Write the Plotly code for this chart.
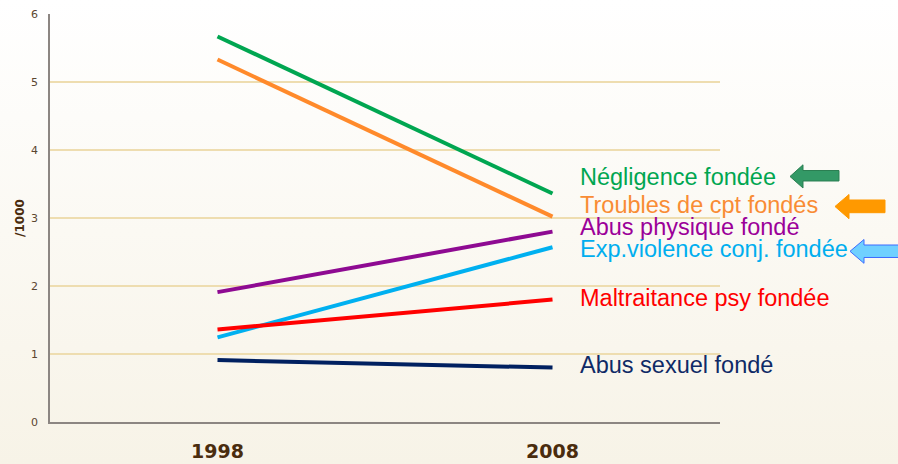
import base64
import plotly.graph_objects as go

# ---- data ----
years = [1998, 2008]
series_names = [
    "Négligence fondée",
    "Troubles de cpt fondés",
    "Abus physique fondé",
    "Exp.violence conj. fondée",
    "Maltraitance psy fondée",
    "Abus sexuel fondé",
]
negligence = [5.67, 3.36]
troubles = [5.33, 3.02]
abus_physique = [1.91, 2.80]
exp_violence = [1.245, 2.57]
maltraitance = [1.36, 1.80]
abus_sexuel = [0.91, 0.80]
y_ticks = [0, 1, 2, 3, 4, 5, 6]
x_tick_labels = ["1998", "2008"]
y_title = "/1000"

values = [negligence, troubles, abus_physique, exp_violence, maltraitance, abus_sexuel]
line_colors = ["#00A651", "#FF8A2B", "#8E0A92", "#00B0F0", "#FF0000", "#002060"]
text_colors = ["#00A651", "#F98C34", "#9B0099", "#00AEEF", "#FF0000", "#0F2A66"]
label_y = [3.60, 3.19, 2.87, 2.54, 1.83, 0.84]

W, H = 898, 464
L, R, T, B = 50, 178, 14, 42
PW, PH = W - L - R, H - T - B


def px(x):
    return (x - L) / PW


def py(y):
    return 1 - (y - T) / PH


fig = go.Figure()
for name, vals, col in zip(series_names, values, line_colors):
    fig.add_trace(go.Scatter(x=years, y=vals, mode="lines", name=name,
                             line=dict(color=col, width=4), showlegend=False,
                             hoverinfo="skip"))

for name, ly, tc in zip(series_names, label_y, text_colors):
    fig.add_annotation(x=px(578), xref="paper", y=ly, yref="y", text=name,
                       showarrow=False, xanchor="left", yanchor="middle",
                       font=dict(family="Liberation Sans, Arial", size=23.5, color=tc))


def arrow(tip_x, tip_y, head_x, shaft_top, shaft_bot, head_top, head_bot, end_x, fill, border):
    pts = [(tip_x, tip_y), (head_x, head_top), (head_x, shaft_top), (end_x, shaft_top),
           (end_x, shaft_bot), (head_x, shaft_bot), (head_x, head_bot)]
    path = "M " + " L ".join(f"{px(a):.5f},{py(b):.5f}" for a, b in pts) + " Z"
    fig.add_shape(type="path", path=path, xref="paper", yref="paper",
                  fillcolor=fill, line=dict(color=border, width=1), layer="above")


arrow(790, 176.5, 803, 170.5, 181, 164.8, 188, 839, "#339966", "#2B7F52")
arrow(835, 206.5, 849, 200, 212.7, 194.5, 218.7, 885, "#FF9900", "#FF9900")
arrow(850, 251.3, 864, 245, 257.5, 239.5, 263.3, 905, "#6FD0FF", "#3D6BFF")

# gradient background
svg = (f'<svg xmlns="http://www.w3.org/2000/svg" width="{W}" height="{H}" preserveAspectRatio="none">'
       '<defs><linearGradient id="g" x1="0" y1="0" x2="0" y2="1">'
       '<stop offset="0" stop-color="#ffffff"/><stop offset="1" stop-color="#f7f3e7"/>'
       '</linearGradient></defs>'
       f'<rect width="{W}" height="{H}" fill="url(#g)"/></svg>')
src = "data:image/svg+xml;base64," + base64.b64encode(svg.encode()).decode()
fig.add_layout_image(source=src, xref="paper", yref="paper", x=-L / PW, y=1 + T / PH,
                     sizex=W / PW, sizey=H / PH, xanchor="left", yanchor="top",
                     sizing="stretch", layer="below")

fig.update_layout(
    width=W, height=H,
    margin=dict(l=L, r=R, t=T, b=B, autoexpand=False),
    paper_bgcolor="#fbf9f3", plot_bgcolor="rgba(0,0,0,0)",
    hovermode=False,
    xaxis=dict(range=[1993, 2013], tickvals=years, ticktext=x_tick_labels,
               showgrid=False, zeroline=False, showline=True, linecolor="#8C8682",
               linewidth=1.5, ticks="", ticklabelstandoff=11, automargin=False,
               tickfont=dict(family="DejaVu Sans", size=19, color="#4A2C0E", weight="bold")),
    yaxis=dict(range=[0, 6], tickvals=y_ticks, showgrid=True, gridcolor="#EEDDB0",
               gridwidth=1.5, zeroline=False, showline=True, linecolor="#8C8682",
               linewidth=1.5, ticks="", ticklabelstandoff=8, automargin=False,
               tickfont=dict(family="DejaVu Sans", size=11, color="#5B4630"),
               title=dict(text=y_title, standoff=4,
                          font=dict(family="DejaVu Sans", size=12, color="#4A2C0E", weight="bold"))),
)

fig.write_html("out.html", config={"displayModeBar": False},
               post_script="document.body.style.margin='0';document.body.style.overflow='hidden';")
